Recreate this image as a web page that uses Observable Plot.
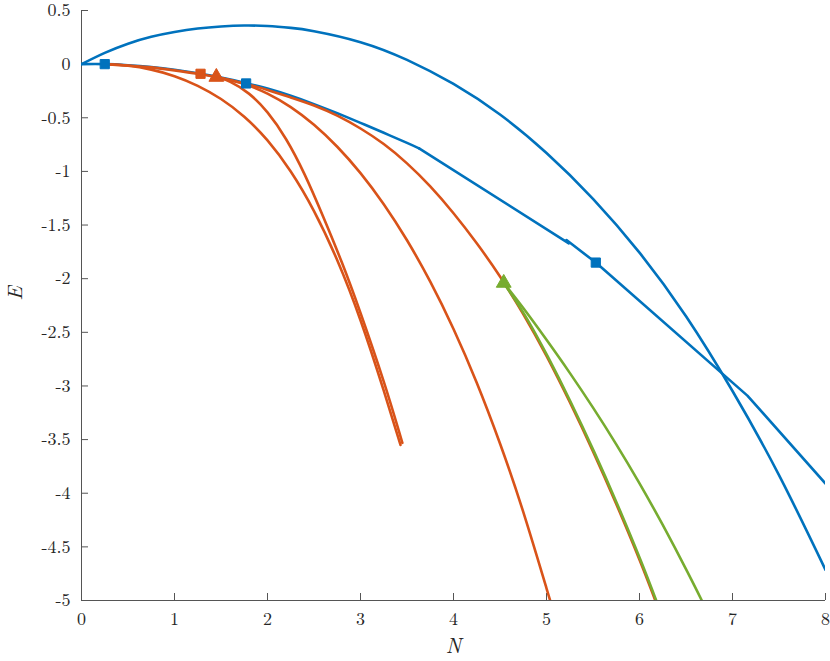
<!DOCTYPE html>
<html><head><meta charset="utf-8">
<script src="https://cdn.jsdelivr.net/npm/d3@7"></script>
<script src="https://cdn.jsdelivr.net/npm/@observablehq/plot@0.6"></script>
<style>body{margin:0;background:#fff} #chart svg{display:block}</style>
</head><body><div id="chart"></div>
<script>
const xTicks = [0,1,2,3,4,5,6,7,8];
const yTicks = [0.5,0,-0.5,-1,-1.5,-2,-2.5,-3,-3.5,-4,-4.5,-5];

// blue upper arc
const blueArcN = [0, 0.25, 0.5, 0.75, 1, 1.25, 1.5, 1.75, 2, 2.25, 2.5, 3, 3.5, 4, 4.5, 5, 5.5, 6, 6.5, 7, 7.5, 8];
const blueArcE = [0, 0.105, 0.191, 0.255, 0.30, 0.332, 0.351, 0.3597, 0.355, 0.338, 0.307, 0.205, 0.04, -0.185, -0.47, -0.828, -1.255, -1.757, -2.35, -3.047, -3.831, -4.714];
// blue lower, smooth part
const blueLowN = [0, 0.25, 0.5, 0.75, 1.0, 1.25, 1.5, 1.75, 2.0, 2.25, 2.5, 2.75, 3.0, 3.25, 3.5, 3.63];
const blueLowE = [0, 0, -0.01, -0.0275, -0.0525, -0.085, -0.125, -0.1725, -0.2275, -0.295, -0.3725, -0.4575, -0.5475, -0.64, -0.734, -0.785];
// blue lower, broken-line part
const blueSegN = [3.63, 5.24, 5.215, 5.53, 7.16, 8];
const blueSegE = [-0.785, -1.67, -1.64, -1.85, -3.09, -3.91];

// orange branches
const or1N = [0.25, 0.5, 0.75, 1, 1.25, 1.5, 1.75, 2, 2.25, 2.5, 2.75, 3, 3.25, 3.43];
const or1E = [0, -0.015, -0.051, -0.112, -0.202, -0.325, -0.49, -0.711, -1.001, -1.37, -1.828, -2.387, -3.043, -3.55];
const or2N = [1.45, 1.6, 1.8, 2.0, 2.2, 2.4, 2.6, 2.8, 3.0, 3.25, 3.45];
const or2E = [-0.12, -0.165, -0.275, -0.45, -0.70, -1.03, -1.425, -1.85, -2.32, -2.96, -3.53];
const or3N = [1.45, 1.75, 2.0, 2.25, 2.5, 2.75, 3.0, 3.25, 3.5, 3.75, 4.0, 4.25, 4.5, 4.75, 5.0, 5.04];
const or3E = [-0.12, -0.186, -0.275, -0.40, -0.565, -0.77, -1.016, -1.306, -1.642, -2.028, -2.469, -2.97, -3.536, -4.174, -4.886, -5.0];
const or4N = [0.25, 0.5, 0.75, 1, 1.25, 1.5, 1.75, 2, 2.25, 2.5, 2.75, 3, 3.25, 3.5, 3.75, 4, 4.25, 4.5, 4.75, 5, 5.25, 5.5, 5.75, 6, 6.17];
const or4E = [0, -0.012, -0.03, -0.058, -0.09, -0.13, -0.18, -0.24, -0.31, -0.385, -0.48, -0.60, -0.745, -0.925, -1.14, -1.39, -1.67, -1.98, -2.33, -2.72, -3.15, -3.61, -4.10, -4.62, -5.0];

// green branches
const gr1N = [4.54, 4.76, 5.01, 5.26, 5.51, 5.76, 6.01, 6.18];
const gr1E = [-2.04, -2.33, -2.72, -3.15, -3.61, -4.10, -4.62, -5.0];
const gr2N = [4.54, 4.75, 5.0, 5.25, 5.5, 5.75, 6.0, 6.25, 6.5, 6.67];
const gr2E = [-2.04, -2.274, -2.57, -2.878, -3.202, -3.544, -3.908, -4.296, -4.708, -5.0];

// markers
const blueSqN = [0.25, 1.77, 5.53];
const blueSqE = [0, -0.18, -1.85];
const orangeSqN = [1.28];
const orangeSqE = [-0.09];
const orangeTriN = [1.45];
const orangeTriE = [-0.12];
const greenTriN = [4.54];
const greenTriE = [-2.04];

const BLUE = "#0072BD", ORANGE = "#D95319", GREEN = "#77AC30";
const pts = (N, E) => N.map((n, i) => ({N: n, E: E[i]}));

const lw = 2.6;
const font = "'Latin Modern Roman','CMU Serif','Liberation Serif',serif";

const chart = Plot.plot({
  width: 830, height: 661,
  marginLeft: 81, marginRight: 5, marginTop: 10, marginBottom: 61,
  style: {fontFamily: font, fontSize: "18px", background: "#fff", color: "#262626"},
  x: {domain: [0, 8]},
  y: {domain: [-5, 0.5]},
  marks: [
    Plot.ruleY([-5], {stroke: "#555", strokeWidth: 1}),
    Plot.ruleX([0], {stroke: "#555", strokeWidth: 1}),
    Plot.axisX({ticks: xTicks, tickSize: -7, tickPadding: 19, stroke: "#555", label: null, tickFormat: d => String(d)}),
    Plot.axisY({ticks: yTicks, tickSize: -7, tickPadding: 18, stroke: "#555", label: null, tickFormat: d => String(d)}),
    Plot.line(pts(blueArcN, blueArcE), {x: "N", y: "E", stroke: BLUE, strokeWidth: lw, curve: "natural", clip: true}),
    Plot.line(pts(blueLowN, blueLowE), {x: "N", y: "E", stroke: BLUE, strokeWidth: lw, curve: "natural", clip: true}),
    Plot.line(pts(blueSegN, blueSegE), {x: "N", y: "E", stroke: BLUE, strokeWidth: lw, curve: "linear", clip: true}),
    Plot.line(pts(or1N, or1E), {x: "N", y: "E", stroke: ORANGE, strokeWidth: lw, curve: "natural", clip: true}),
    Plot.line(pts(or2N, or2E), {x: "N", y: "E", stroke: ORANGE, strokeWidth: lw, curve: "natural", clip: true}),
    Plot.line(pts(or3N, or3E), {x: "N", y: "E", stroke: ORANGE, strokeWidth: lw, curve: "natural", clip: true}),
    Plot.line(pts(or4N, or4E), {x: "N", y: "E", stroke: ORANGE, strokeWidth: lw, curve: "natural", clip: true}),
    Plot.line(pts(gr1N, gr1E), {x: "N", y: "E", stroke: GREEN, strokeWidth: lw, curve: "natural", clip: true}),
    Plot.line(pts(gr2N, gr2E), {x: "N", y: "E", stroke: GREEN, strokeWidth: lw, curve: "natural", clip: true}),
    Plot.dot(pts(blueSqN, blueSqE), {x: "N", y: "E", symbol: "square", r: 5.2, fill: BLUE, stroke: BLUE, strokeWidth: 1}),
    Plot.dot(pts(orangeSqN, orangeSqE), {x: "N", y: "E", symbol: "square", r: 5.2, fill: ORANGE, stroke: ORANGE, strokeWidth: 1}),
    Plot.dot(pts(orangeTriN, orangeTriE), {x: "N", y: "E", symbol: "triangle", r: 5.5, fill: ORANGE, stroke: ORANGE, strokeWidth: 1}),
    Plot.dot(pts(greenTriN, greenTriE), {x: "N", y: "E", symbol: "triangle", r: 5.5, fill: GREEN, stroke: GREEN, strokeWidth: 1}),
    Plot.text(["N"], {frameAnchor: "bottom", dy: 52, fontStyle: "italic", fontSize: 21, fill: "#262626"}),
    Plot.text(["E"], {frameAnchor: "left", dx: -66, dy: -5, rotate: -90, fontStyle: "italic", fontSize: 21, fill: "#262626"})
  ]
});
document.getElementById("chart").appendChild(chart);
</script>
</body></html>
